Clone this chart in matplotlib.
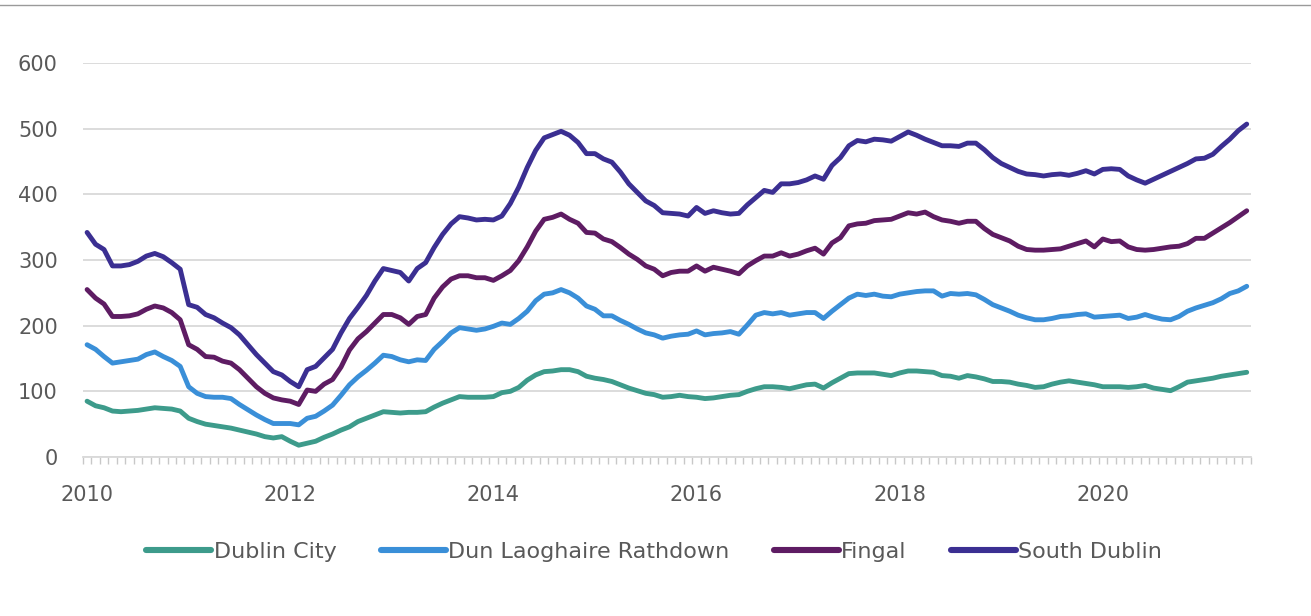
import matplotlib
matplotlib.use("Agg")
import matplotlib.pyplot as plt
from matplotlib.lines import Line2D
import numpy as np

plt.rcParams['font.family'] = ['DejaVu Sans']

# Monthly series, Jan 2010 onwards
dublin_city = [
    85, 78, 75, 70, 69, 70, 71, 73, 75, 74, 73, 70,
    59, 54, 50, 48, 46, 44, 41, 38, 35, 31, 29, 31,
    24, 18, 21, 24, 30, 35, 41, 46, 54, 59, 64, 69,
    68, 67, 68, 68, 69, 76, 82, 87, 92, 91, 91, 91,
    92, 98, 100, 106, 117, 125, 130, 131, 133, 133, 130, 123,
    120, 118, 115, 110, 105, 101, 97, 95, 91, 92, 94, 92,
    91, 89, 90, 92, 94, 95, 100, 104, 107, 107, 106, 104,
    107, 110, 111, 105, 113, 120, 127, 128, 128, 128, 126, 124,
    128, 131, 131, 130, 129, 124, 123, 120, 124, 122, 119, 115,
    115, 114, 111, 109, 106, 107, 111, 114, 116, 114, 112, 110,
    107, 107, 107, 106, 107, 109, 105, 103, 101, 107, 114, 116,
    118, 120, 123, 125, 127, 129,
]
dun_laoghaire = [
    171, 164, 153, 143, 145, 147, 149, 156, 160, 153, 147, 138,
    107, 97, 92, 91, 91, 89, 80, 72, 64, 57, 51, 51,
    51, 49, 59, 62, 70, 79, 94, 110, 122, 132, 143, 155,
    153, 148, 145, 148, 147, 164, 176, 189, 197, 195, 193, 195,
    199, 204, 202, 211, 222, 238, 248, 250, 255, 250, 242, 230,
    225, 215, 215, 208, 202, 195, 189, 186, 181, 184, 186, 187,
    192, 186, 188, 189, 191, 187, 201, 216, 220, 218, 220, 216,
    218, 220, 220, 211, 222, 232, 242, 248, 246, 248, 245, 244,
    248, 250, 252, 253, 253, 245, 249, 248, 249, 247, 240, 232,
    227, 222, 216, 212, 209, 209, 211, 214, 215, 217, 218, 213,
    214, 215, 216, 211, 213, 217, 213, 210, 209, 214, 222, 227,
    231, 235, 241, 249, 253, 260,
]
fingal = [
    255, 242, 233, 214, 214, 215, 218, 225, 230, 227, 220, 209,
    171, 164, 153, 152, 146, 143, 133, 120, 107, 97, 90, 87,
    85, 80, 102, 100, 111, 118, 137, 163, 180, 191, 204, 217,
    217, 212, 202, 214, 217, 242, 259, 271, 276, 276, 273, 273,
    269, 276, 284, 299, 320, 344, 362, 365, 370, 362, 356, 342,
    341, 332, 328, 319, 309, 301, 291, 286, 276, 281, 283, 283,
    291, 283, 289, 286, 283, 279, 291, 299, 306, 306, 311, 306,
    309, 314, 318, 309, 326, 334, 352, 355, 356, 360, 361, 362,
    367, 372, 370, 373, 366, 361, 359, 356, 359, 359, 348, 339,
    334, 329, 321, 316, 315, 315, 316, 317, 321, 325, 329, 320,
    332, 328, 329, 320, 316, 315, 316, 318, 320, 321, 325, 333,
    333, 341, 349, 357, 366, 375,
]
south_dublin = [
    342, 324, 316, 291, 291, 293, 298, 306, 310, 305, 296, 286,
    232, 228, 217, 212, 204, 197, 186, 171, 156, 143, 130, 125,
    115, 107, 133, 138, 151, 164, 189, 211, 228, 246, 268, 287,
    284, 281, 268, 287, 296, 319, 339, 355, 366, 364, 361, 362,
    361, 367, 386, 411, 441, 467, 486, 491, 496, 490, 479, 462,
    462, 454, 449, 434, 416, 403, 390, 383, 372, 371, 370, 367,
    380, 371, 375, 372, 370, 371, 384, 395, 406, 403, 416, 416,
    418, 422, 428, 423, 444, 456, 474, 482, 480, 484, 483, 481,
    488, 495, 490, 484, 479, 474, 474, 473, 478, 478, 468, 456,
    447, 441, 435, 431, 430, 428, 430, 431, 429, 432, 436, 431,
    438, 439, 438, 428, 422, 417, 423, 429, 435, 441, 447, 454,
    455, 461, 473, 484, 497, 507,
]

series_names = ["Dublin City", "Dun Laoghaire Rathdown", "Fingal", "South Dublin"]
series_colors = ["#3d9b8b", "#3a8fd8", "#5e1c63", "#3b2f92"]
year_labels = ["2010", "2012", "2014", "2016", "2018", "2020"]
y_ticks = [0, 100, 200, 300, 400, 500, 600]

months = np.arange(len(dublin_city))

fig = plt.figure(figsize=(13.11, 6.16), dpi=100)
ax = fig.add_axes([0.0632, 0.2581, 0.8910, 0.6396])

for values, name, color in zip([dublin_city, dun_laoghaire, fingal, south_dublin],
                               series_names, series_colors):
    ax.plot(months, values, color=color, lw=3.5, solid_capstyle="round",
            solid_joinstyle="round", label=name, zorder=3)

ax.set_ylim(0, 600)
ax.set_xlim(-0.5, len(months) - 0.5)
ax.set_yticks(y_ticks)
ax.yaxis.grid(True, color="#d9d9d9", lw=1.3)
ax.set_axisbelow(True)

for side in ["top", "right", "left"]:
    ax.spines[side].set_visible(False)
ax.spines["bottom"].set_color("#d9d9d9")
ax.spines["bottom"].set_linewidth(1.3)

label_color = "#595959"
ax.tick_params(axis="y", length=0, pad=18, labelsize=15, labelcolor=label_color)

ax.set_xticks(np.arange(0, len(months), 24))
ax.set_xticklabels(year_labels)
ax.set_xticks(np.arange(-0.5, len(months), 1), minor=True)
ax.tick_params(axis="x", which="major", length=0, pad=20, labelsize=15,
               labelcolor=label_color)
ax.tick_params(axis="x", which="minor", length=5, width=1, color="#c8c8c8",
               direction="out")

handles = [Line2D([0], [0], color=c, lw=4.4, solid_capstyle="round") for c in series_colors]
fig.legend(handles, series_names, loc="center", bbox_to_anchor=(0.499, 0.104),
           ncol=4, frameon=False, fontsize=16, handlelength=2.93, handletextpad=0.1,
           columnspacing=2.0, labelcolor=label_color)

# thin rule across the top edge
fig.add_artist(Line2D([0, 1], [0.992, 0.992], transform=fig.transFigure,
                      color="#9a9a9a", lw=1))

fig.savefig("out.png", dpi=100, facecolor="white")
